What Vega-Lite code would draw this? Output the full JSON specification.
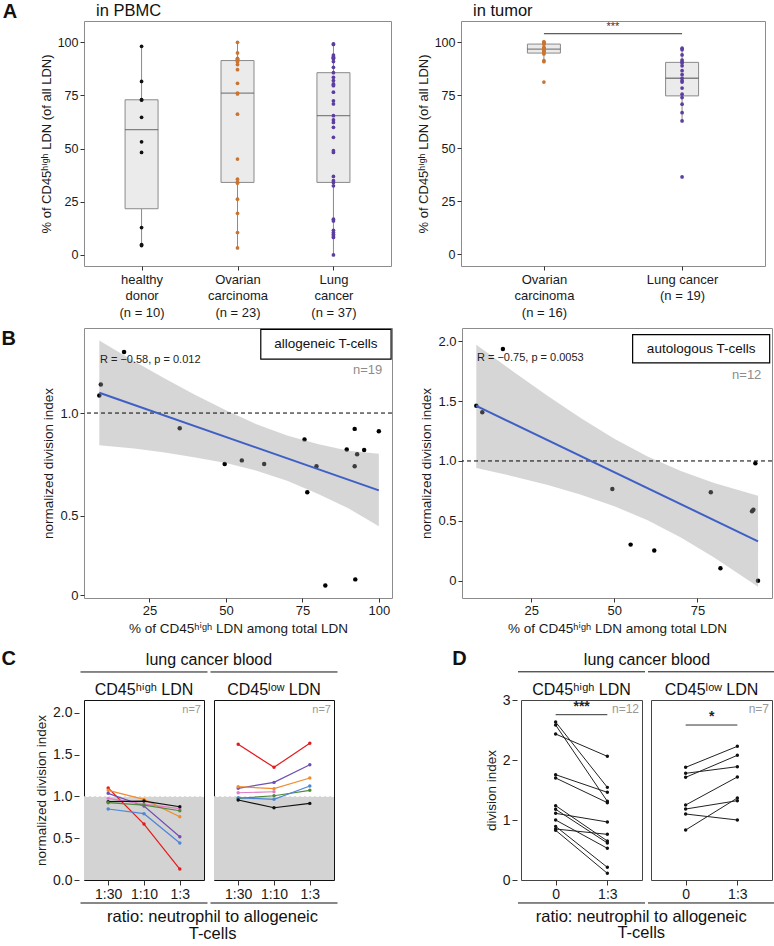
{
"$schema": "https://vega.github.io/schema/vega-lite/v6.json",
"padding": {"left": 1, "top": 2, "right": 2, "bottom": 2},
"resolve": {"scale": {"color": "independent"}},
"spacing": 14,
"config": {
  "font": "Liberation Sans, DejaVu Sans, sans-serif",
  "view": {"stroke": "#8c8c8c"},
  "axis": {"grid": false, "domain": false, "tickColor": "#333333", "tickSize": 4, "labelColor": "#1a1a1a", "titleColor": "#1a1a1a", "labelFontSize": 12.5, "titleFontSize": 13, "titleFontWeight": "normal", "labelPadding": 2, "titlePadding": 4},
  "title": {"fontWeight": "normal", "color": "#111111", "fontSize": 16.5},
  "header": {"labelColor": "#111111", "titleColor": "#111111", "labelFontSize": 16, "titleFontSize": 16, "titleFontWeight": "normal"}
},
"datasets": {
  "a1": [
    {"g":"healthy donor","v":98.1},{"g":"healthy donor","v":81.6},{"g":"healthy donor","v":73.0},{"g":"healthy donor","v":72.8},{"g":"healthy donor","v":64.7},{"g":"healthy donor","v":53.2},{"g":"healthy donor","v":48.2},{"g":"healthy donor","v":12.9},{"g":"healthy donor","v":4.9},{"g":"healthy donor","v":4.4},
    {"g":"Ovarian carcinoma","v":100},{"g":"Ovarian carcinoma","v":95.0},{"g":"Ovarian carcinoma","v":92.4},{"g":"Ovarian carcinoma","v":92.2},{"g":"Ovarian carcinoma","v":92.0},{"g":"Ovarian carcinoma","v":91.6},{"g":"Ovarian carcinoma","v":91.2},{"g":"Ovarian carcinoma","v":90.8},{"g":"Ovarian carcinoma","v":89.5},{"g":"Ovarian carcinoma","v":87.1},{"g":"Ovarian carcinoma","v":80.7},{"g":"Ovarian carcinoma","v":76.1},{"g":"Ovarian carcinoma","v":75.7},{"g":"Ovarian carcinoma","v":66.2},{"g":"Ovarian carcinoma","v":45.1},{"g":"Ovarian carcinoma","v":35.6},{"g":"Ovarian carcinoma","v":34.2},{"g":"Ovarian carcinoma","v":34.0},{"g":"Ovarian carcinoma","v":33.8},{"g":"Ovarian carcinoma","v":26.2},{"g":"Ovarian carcinoma","v":19.6},{"g":"Ovarian carcinoma","v":10.5},{"g":"Ovarian carcinoma","v":3.3},
    {"g":"Lung cancer","v":0},{"g":"Lung cancer","v":8.2},{"g":"Lung cancer","v":8.9},{"g":"Lung cancer","v":9.7},{"g":"Lung cancer","v":10.5},{"g":"Lung cancer","v":11.6},{"g":"Lung cancer","v":16.0},{"g":"Lung cancer","v":16.8},{"g":"Lung cancer","v":32.5},{"g":"Lung cancer","v":34.1},{"g":"Lung cancer","v":34.9},{"g":"Lung cancer","v":36.9},{"g":"Lung cancer","v":48.2},{"g":"Lung cancer","v":49.0},{"g":"Lung cancer","v":55.3},{"g":"Lung cancer","v":60.0},{"g":"Lung cancer","v":62.3},{"g":"Lung cancer","v":63.5},{"g":"Lung cancer","v":65.5},{"g":"Lung cancer","v":71.0},{"g":"Lung cancer","v":72.5},{"g":"Lung cancer","v":76.5},{"g":"Lung cancer","v":79.6},{"g":"Lung cancer","v":80.0},{"g":"Lung cancer","v":80.4},{"g":"Lung cancer","v":82.0},{"g":"Lung cancer","v":83.5},{"g":"Lung cancer","v":85.7},{"g":"Lung cancer","v":88.2},{"g":"Lung cancer","v":90.9},{"g":"Lung cancer","v":92.2},{"g":"Lung cancer","v":92.5},{"g":"Lung cancer","v":92.9},{"g":"Lung cancer","v":93.2},{"g":"Lung cancer","v":94.0},{"g":"Lung cancer","v":99.0},{"g":"Lung cancer","v":99.3}
  ],
  "a2": [
    {"g":"Ovarian carcinoma","v":81.2},{"g":"Ovarian carcinoma","v":90.8},{"g":"Ovarian carcinoma","v":91.3},{"g":"Ovarian carcinoma","v":94.5},{"g":"Ovarian carcinoma","v":95.0},{"g":"Ovarian carcinoma","v":95.7},{"g":"Ovarian carcinoma","v":96.2},{"g":"Ovarian carcinoma","v":96.6},{"g":"Ovarian carcinoma","v":96.8},{"g":"Ovarian carcinoma","v":97.2},{"g":"Ovarian carcinoma","v":97.6},{"g":"Ovarian carcinoma","v":99.0},{"g":"Ovarian carcinoma","v":99.5},{"g":"Ovarian carcinoma","v":100},{"g":"Ovarian carcinoma","v":100},{"g":"Ovarian carcinoma","v":100},
    {"g":"Lung cancer","v":36.5},{"g":"Lung cancer","v":62.9},{"g":"Lung cancer","v":66.8},{"g":"Lung cancer","v":70.8},{"g":"Lung cancer","v":73.9},{"g":"Lung cancer","v":75.5},{"g":"Lung cancer","v":78.4},{"g":"Lung cancer","v":81.2},{"g":"Lung cancer","v":81.8},{"g":"Lung cancer","v":83.0},{"g":"Lung cancer","v":84.7},{"g":"Lung cancer","v":86.6},{"g":"Lung cancer","v":88.9},{"g":"Lung cancer","v":90.2},{"g":"Lung cancer","v":90.8},{"g":"Lung cancer","v":91.6},{"g":"Lung cancer","v":94.0},{"g":"Lung cancer","v":96.5},{"g":"Lung cancer","v":97.2}
  ],
  "b1": [
    {"x":8.6,"y":1.085},{"x":9.1,"y":1.139},{"x":16.7,"y":1.296},{"x":34.9,"y":0.926},{"x":49.6,"y":0.752},{"x":55.2,"y":0.770},{"x":62.5,"y":0.752},{"x":75.7,"y":0.872},{"x":76.6,"y":0.615},{"x":79.6,"y":0.742},{"x":89.5,"y":0.823},{"x":92.1,"y":0.923},{"x":92.1,"y":0.742},{"x":92.9,"y":0.800},{"x":95.2,"y":0.820},{"x":100.0,"y":0.911},{"x":82.5,"y":0.162},{"x":92.3,"y":0.192}
  ],
  "b1band": [
    {"x":8.6,"lo":0.844,"hi":1.352},{"x":20,"lo":0.828,"hi":1.252},{"x":30,"lo":0.808,"hi":1.168},{"x":40,"lo":0.784,"hi":1.088},{"x":50,"lo":0.757,"hi":1.013},{"x":60,"lo":0.720,"hi":0.946},{"x":70,"lo":0.671,"hi":0.891},{"x":80,"lo":0.608,"hi":0.850},{"x":90,"lo":0.537,"hi":0.817},{"x":100,"lo":0.450,"hi":0.802}
  ],
  "b2": [
    {"x":8.5,"y":1.462},{"x":10.3,"y":1.407},{"x":16.5,"y":1.936},{"x":49.4,"y":0.766},{"x":54.9,"y":0.301},{"x":62.0,"y":0.251},{"x":79.0,"y":0.738},{"x":81.9,"y":0.103},{"x":91.4,"y":0.579},{"x":91.8,"y":0.593},{"x":92.4,"y":0.981},{"x":93.2,"y":0.0}
  ],
  "b2band": [
    {"x":8.5,"lo":0.942,"hi":1.972},{"x":20,"lo":0.869,"hi":1.739},{"x":30,"lo":0.799,"hi":1.543},{"x":40,"lo":0.717,"hi":1.357},{"x":50,"lo":0.622,"hi":1.186},{"x":60,"lo":0.504,"hi":1.038},{"x":70,"lo":0.360,"hi":0.916},{"x":80,"lo":0.193,"hi":0.815},{"x":93.2,"lo":-0.051,"hi":0.709}
  ],
  "c": [
    {"l":"H","s":"red","r":"1:30","v":1.100},{"l":"H","s":"red","r":"1:10","v":0.669},{"l":"H","s":"red","r":"1:3","v":0.131},
    {"l":"H","s":"orange","r":"1:30","v":1.072},{"l":"H","s":"orange","r":"1:10","v":0.964},{"l":"H","s":"orange","r":"1:3","v":0.757},
    {"l":"H","s":"purple","r":"1:30","v":1.036},{"l":"H","s":"purple","r":"1:10","v":0.884},{"l":"H","s":"purple","r":"1:3","v":0.518},
    {"l":"H","s":"pink","r":"1:30","v":0.976},{"l":"H","s":"pink","r":"1:10","v":0.908},{"l":"H","s":"pink","r":"1:3","v":0.853},
    {"l":"H","s":"black","r":"1:30","v":0.936},{"l":"H","s":"black","r":"1:10","v":0.944},{"l":"H","s":"black","r":"1:3","v":0.876},
    {"l":"H","s":"green","r":"1:30","v":0.924},{"l":"H","s":"green","r":"1:10","v":0.896},{"l":"H","s":"green","r":"1:3","v":0.828},
    {"l":"H","s":"blue","r":"1:30","v":0.849},{"l":"H","s":"blue","r":"1:10","v":0.793},{"l":"H","s":"blue","r":"1:3","v":0.442},
    {"l":"L","s":"red","r":"1:30","v":1.622},{"l":"L","s":"red","r":"1:10","v":1.347},{"l":"L","s":"red","r":"1:3","v":1.634},
    {"l":"L","s":"purple","r":"1:30","v":1.096},{"l":"L","s":"purple","r":"1:10","v":1.167},{"l":"L","s":"purple","r":"1:3","v":1.378},
    {"l":"L","s":"orange","r":"1:30","v":1.116},{"l":"L","s":"orange","r":"1:10","v":1.092},{"l":"L","s":"orange","r":"1:3","v":1.219},
    {"l":"L","s":"pink","r":"1:30","v":1.043},{"l":"L","s":"pink","r":"1:10","v":1.055},
    {"l":"L","s":"green","r":"1:30","v":0.976},{"l":"L","s":"green","r":"1:10","v":1.007},{"l":"L","s":"green","r":"1:3","v":1.072},
    {"l":"L","s":"blue","r":"1:30","v":0.984},{"l":"L","s":"blue","r":"1:10","v":0.964},{"l":"L","s":"blue","r":"1:3","v":1.124},
    {"l":"L","s":"black","r":"1:30","v":0.956},{"l":"L","s":"black","r":"1:10","v":0.864},{"l":"L","s":"black","r":"1:3","v":0.916}
  ],
  "d": [
    {"k":"pt","l":"H","id":"h1","r":"0","v":2.633},{"k":"pt","l":"H","id":"h1","r":"1:3","v":1.544},
    {"k":"pt","l":"H","id":"h2","r":"0","v":2.583},{"k":"pt","l":"H","id":"h2","r":"1:3","v":1.311},
    {"k":"pt","l":"H","id":"h3","r":"0","v":2.433},{"k":"pt","l":"H","id":"h3","r":"1:3","v":2.061},
    {"k":"pt","l":"H","id":"h4","r":"0","v":1.755},{"k":"pt","l":"H","id":"h4","r":"1:3","v":1.461},
    {"k":"pt","l":"H","id":"h5","r":"0","v":1.700},{"k":"pt","l":"H","id":"h5","r":"1:3","v":1.289},
    {"k":"pt","l":"H","id":"h6","r":"0","v":1.239},{"k":"pt","l":"H","id":"h6","r":"1:3","v":0.650},
    {"k":"pt","l":"H","id":"h7","r":"0","v":1.178},{"k":"pt","l":"H","id":"h7","r":"1:3","v":0.617},
    {"k":"pt","l":"H","id":"h8","r":"0","v":1.111},{"k":"pt","l":"H","id":"h8","r":"1:3","v":0.967},
    {"k":"pt","l":"H","id":"h9","r":"0","v":1.000},{"k":"pt","l":"H","id":"h9","r":"1:3","v":0.528},
    {"k":"pt","l":"H","id":"h10","r":"0","v":0.894},{"k":"pt","l":"H","id":"h10","r":"1:3","v":0.211},
    {"k":"pt","l":"H","id":"h11","r":"0","v":0.850},{"k":"pt","l":"H","id":"h11","r":"1:3","v":0.761},
    {"k":"pt","l":"H","id":"h12","r":"0","v":0.828},{"k":"pt","l":"H","id":"h12","r":"1:3","v":0.111},
    {"k":"pt","l":"L","id":"l1","r":"0","v":1.878},{"k":"pt","l":"L","id":"l1","r":"1:3","v":2.228},
    {"k":"pt","l":"L","id":"l2","r":"0","v":1.778},{"k":"pt","l":"L","id":"l2","r":"1:3","v":1.889},
    {"k":"pt","l":"L","id":"l3","r":"0","v":1.711},{"k":"pt","l":"L","id":"l3","r":"1:3","v":2.078},
    {"k":"pt","l":"L","id":"l4","r":"0","v":1.250},{"k":"pt","l":"L","id":"l4","r":"1:3","v":1.717},
    {"k":"pt","l":"L","id":"l5","r":"0","v":1.183},{"k":"pt","l":"L","id":"l5","r":"1:3","v":1.322},
    {"k":"pt","l":"L","id":"l6","r":"0","v":1.100},{"k":"pt","l":"L","id":"l6","r":"1:3","v":1.000},
    {"k":"pt","l":"L","id":"l7","r":"0","v":0.833},{"k":"pt","l":"L","id":"l7","r":"1:3","v":1.367},
    {"k":"sig","l":"H","lab":"***","ly":2.755,"ty":2.89},
    {"k":"sig","l":"L","lab":"*","ly":2.583,"ty":2.72},
    {"k":"n","l":"H","lab":"n=12","ty":2.85},
    {"k":"n","l":"L","lab":"n=7","ty":2.85}
  ]
},
"vconcat": [
  {
    "spacing": 7,
    "resolve": {"scale": {"color": "independent"}},
    "vconcat": [
      {
        "title": {"text": "A", "anchor": "start", "frame": "bounds", "fontSize": 20, "fontWeight": "bold", "dx": -37, "offset": -20},
        "spacing": 24,
        "hconcat": [
          {
            "width": 307, "height": 245,
            "title": {"text": "in PBMC", "anchor": "start", "frame": "group", "dx": 12, "offset": 1.5},
            "data": {"name": "a1"},
            "layer": [
              {
                "mark": {"type": "boxplot", "extent": 1.5, "size": 33, "outliers": false, "ticks": false,
                         "box": {"color": "#ebebeb", "stroke": "#8a8a8a", "strokeWidth": 1},
                         "median": {"color": "#555555", "thickness": 1.3},
                         "rule": {"color": "#8a8a8a"}},
                "encoding": {
                  "x": {"field": "g", "type": "nominal", "sort": ["healthy donor", "Ovarian carcinoma", "Lung cancer"], "scale": {"type": "point", "padding": 0.6},
                        "axis": {"title": null, "labelAngle": 0, "labelFontSize": 13, "labelLineHeight": 16.5, "labelBaseline": "top", "labelPadding": 3,
                                 "labelExpr": "datum.value == 'healthy donor' ? ['healthy', 'donor', '(n = 10)'] : datum.value == 'Ovarian carcinoma' ? ['Ovarian', 'carcinoma', '(n = 23)'] : ['Lung', 'cancer', '(n = 37)']"}},
                  "y": {"field": "v", "type": "quantitative", "scale": {"domain": [-5.2, 110], "nice": false, "zero": false},
                        "axis": {"values": [0, 25, 50, 75, 100], "title": "% of CD45ʰⁱᵍʰ LDN (of all LDN)"}}
                }
              },
              {
                "mark": {"type": "circle", "size": 14, "opacity": 1},
                "encoding": {
                  "x": {"field": "g", "type": "nominal", "sort": ["healthy donor", "Ovarian carcinoma", "Lung cancer"]},
                  "y": {"field": "v", "type": "quantitative"},
                  "color": {"field": "g", "type": "nominal", "scale": {"domain": ["healthy donor", "Ovarian carcinoma", "Lung cancer"], "range": ["#111111", "#c87533", "#5b3ea0"]}, "legend": null}
                }
              }
            ]
          },
          {
            "width": 304, "height": 245,
            "title": {"text": "in tumor", "anchor": "start", "frame": "group", "dx": 12, "offset": 1.5},
            "layer": [
              {
                "data": {"name": "a2"},
                "mark": {"type": "boxplot", "extent": 1.5, "size": 33, "outliers": false, "ticks": false,
                         "box": {"color": "#ebebeb", "stroke": "#8a8a8a", "strokeWidth": 1},
                         "median": {"color": "#555555", "thickness": 1.3},
                         "rule": {"color": "#8a8a8a"}},
                "encoding": {
                  "x": {"field": "g", "type": "nominal", "sort": ["Ovarian carcinoma", "Lung cancer"], "scale": {"type": "point", "padding": 0.6},
                        "axis": {"title": null, "labelAngle": 0, "labelFontSize": 13, "labelLineHeight": 16.5, "labelBaseline": "top", "labelPadding": 3,
                                 "labelExpr": "datum.value == 'Ovarian carcinoma' ? ['Ovarian', 'carcinoma', '(n = 16)'] : ['Lung cancer', '(n = 19)']"}},
                  "y": {"field": "v", "type": "quantitative", "scale": {"domain": [-5.5, 110], "nice": false, "zero": false},
                        "axis": {"values": [0, 25, 50, 75, 100], "title": "% of CD45ʰⁱᵍʰ LDN (of all LDN)"}}
                }
              },
              {
                "data": {"name": "a2"},
                "mark": {"type": "circle", "size": 14, "opacity": 1},
                "encoding": {
                  "x": {"field": "g", "type": "nominal", "sort": ["Ovarian carcinoma", "Lung cancer"]},
                  "y": {"field": "v", "type": "quantitative"},
                  "color": {"field": "g", "type": "nominal", "scale": {"domain": ["Ovarian carcinoma", "Lung cancer"], "range": ["#c87533", "#5b3ea0"]}, "legend": null}
                }
              },
              {
                "data": {"values": [{}]},
                "mark": {"type": "rule", "color": "#333333", "strokeWidth": 1},
                "encoding": {"x": {"datum": "Ovarian carcinoma", "type": "nominal"}, "x2": {"datum": "Lung cancer"}, "y": {"datum": 104, "type": "quantitative"}}
              },
              {
                "data": {"values": [{}]},
                "mark": {"type": "text", "text": "***", "fontSize": 11, "dx": 69, "baseline": "middle", "fill": "#333333"},
                "encoding": {"x": {"datum": "Ovarian carcinoma", "type": "nominal"}, "y": {"datum": 107.4, "type": "quantitative"}}
              }
            ]
          }
        ]
      },
      {
        "title": {"text": "B", "anchor": "start", "frame": "bounds", "fontSize": 20, "fontWeight": "bold", "dx": -40, "offset": -21},
        "spacing": 26,
        "hconcat": [
          {
            "width": 308, "height": 270,
            "layer": [
              {
                "data": {"name": "b1"},
                "mark": {"type": "circle", "size": 20, "color": "#000000", "opacity": 1},
                "encoding": {
                  "x": {"field": "x", "type": "quantitative", "scale": {"domain": [3.6, 104.3], "nice": false, "zero": false},
                        "axis": {"values": [25, 50, 75, 100], "title": "% of CD45ʰⁱᵍʰ LDN among total LDN", "titleFontSize": 13.5, "labelFontSize": 13}},
                  "y": {"field": "y", "type": "quantitative", "scale": {"domain": [0.1016, 1.413], "nice": false, "zero": false},
                        "axis": {"values": [0.115, 0.5, 1], "labelExpr": "datum.value < 0.2 ? '0' : format(datum.value, '.1f')", "title": "normalized division index", "titleFontSize": 13.5, "labelFontSize": 13}}
                }
              },
              {
                "data": {"name": "b1band"},
                "mark": {"type": "area", "color": "#999999", "opacity": 0.4},
                "encoding": {"x": {"field": "x", "type": "quantitative"}, "y": {"field": "lo", "type": "quantitative"}, "y2": {"field": "hi"}}
              },
              {
                "data": {"values": [{}]},
                "mark": {"type": "rule", "color": "#000000", "strokeDash": [4, 3], "strokeWidth": 1},
                "encoding": {"y": {"datum": 1, "type": "quantitative"}}
              },
              {
                "data": {"name": "b1"},
                "transform": [{"regression": "y", "on": "x"}],
                "mark": {"type": "line", "color": "#3f5fc4", "strokeWidth": 2},
                "encoding": {"x": {"field": "x", "type": "quantitative"}, "y": {"field": "y", "type": "quantitative"}}
              },
              {
                "data": {"values": [{}]},
                "mark": {"type": "text", "text": "R = −0.58, p = 0.012", "align": "left", "baseline": "middle", "fontSize": 11, "color": "#222222"},
                "encoding": {"x": {"datum": 8.8, "type": "quantitative"}, "y": {"datum": 1.257, "type": "quantitative"}}
              },
              {
                "data": {"values": [{}]},
                "mark": {"type": "rect", "fill": "#ffffff", "stroke": "#000000", "strokeWidth": 1.2},
                "encoding": {"x": {"datum": 61.4, "type": "quantitative"}, "x2": {"datum": 104.0}, "y": {"datum": 1.262, "type": "quantitative"}, "y2": {"datum": 1.406}}
              },
              {
                "data": {"values": [{}]},
                "mark": {"type": "text", "text": "allogeneic T-cells", "align": "center", "baseline": "middle", "fontSize": 13.5, "color": "#111111"},
                "encoding": {"x": {"datum": 82.7, "type": "quantitative"}, "y": {"datum": 1.334, "type": "quantitative"}}
              },
              {
                "data": {"values": [{}]},
                "mark": {"type": "text", "text": "n=19", "align": "right", "baseline": "middle", "fontSize": 13, "color": "#8c8c8c"},
                "encoding": {"x": {"datum": 101.1, "type": "quantitative"}, "y": {"datum": 1.209, "type": "quantitative"}}
              }
            ]
          },
          {
            "width": 310, "height": 270,
            "layer": [
              {
                "data": {"name": "b2"},
                "mark": {"type": "circle", "size": 20, "color": "#000000", "opacity": 1},
                "encoding": {
                  "x": {"field": "x", "type": "quantitative", "scale": {"domain": [4.2, 97.4], "nice": false, "zero": false},
                        "axis": {"values": [25, 50, 75], "title": "% of CD45ʰⁱᵍʰ LDN among total LDN", "titleFontSize": 13.5, "labelFontSize": 13}},
                  "y": {"field": "y", "type": "quantitative", "scale": {"domain": [-0.145, 2.111], "nice": false, "zero": false},
                        "axis": {"values": [0, 0.5, 1, 1.5, 2], "labelExpr": "datum.value == 0 ? '0' : format(datum.value, '.1f')", "title": "normalized division index", "titleFontSize": 13.5, "labelFontSize": 13}}
                }
              },
              {
                "data": {"name": "b2band"},
                "mark": {"type": "area", "color": "#999999", "opacity": 0.4},
                "encoding": {"x": {"field": "x", "type": "quantitative"}, "y": {"field": "lo", "type": "quantitative"}, "y2": {"field": "hi"}}
              },
              {
                "data": {"values": [{}]},
                "mark": {"type": "rule", "color": "#000000", "strokeDash": [4, 3], "strokeWidth": 1},
                "encoding": {"y": {"datum": 1, "type": "quantitative"}}
              },
              {
                "data": {"name": "b2"},
                "transform": [{"regression": "y", "on": "x"}],
                "mark": {"type": "line", "color": "#3f5fc4", "strokeWidth": 2},
                "encoding": {"x": {"field": "x", "type": "quantitative"}, "y": {"field": "y", "type": "quantitative"}}
              },
              {
                "data": {"values": [{}]},
                "mark": {"type": "text", "text": "R = −0.75, p = 0.0053", "align": "left", "baseline": "middle", "fontSize": 11, "color": "#222222"},
                "encoding": {"x": {"datum": 8.7, "type": "quantitative"}, "y": {"datum": 1.861, "type": "quantitative"}}
              },
              {
                "data": {"values": [{}]},
                "mark": {"type": "rect", "fill": "#ffffff", "stroke": "#000000", "strokeWidth": 1.2},
                "encoding": {"x": {"datum": 55.5, "type": "quantitative"}, "x2": {"datum": 96.7}, "y": {"datum": 1.819, "type": "quantitative"}, "y2": {"datum": 2.056}}
              },
              {
                "data": {"values": [{}]},
                "mark": {"type": "text", "text": "autologous T-cells", "align": "center", "baseline": "middle", "fontSize": 13.5, "color": "#111111"},
                "encoding": {"x": {"datum": 76.1, "type": "quantitative"}, "y": {"datum": 1.937, "type": "quantitative"}}
              },
              {
                "data": {"values": [{}]},
                "mark": {"type": "text", "text": "n=12", "align": "right", "baseline": "middle", "fontSize": 13, "color": "#8c8c8c"},
                "encoding": {"x": {"datum": 94.2, "type": "quantitative"}, "y": {"datum": 1.721, "type": "quantitative"}}
              }
            ]
          }
        ]
      }
    ]
  },
  {
    "spacing": 113,
    "resolve": {"scale": {"color": "independent"}},
    "hconcat": [
      {
        "title": {"text": ["ratio: neutrophil to allogeneic", "T-cells"], "orient": "bottom", "anchor": "start", "align": "center", "dx": 211, "fontSize": 16.5, "lineHeight": 16.5, "offset": 5},
        "vconcat": [
          {
            "data": {"name": "c"},
            "title": {"text": "C", "anchor": "start", "fontSize": 20, "fontWeight": "bold", "dx": -33, "offset": -17},
            "facet": {"column": {"field": "l", "type": "nominal", "sort": ["H", "L"], "title": "lung cancer blood",
                      "header": {"labelExpr": "datum.value == 'H' ? 'CD45ʰⁱᵍʰ LDN' : 'CD45ˡᵒʷ LDN'", "labelPadding": -28, "titlePadding": -8}}},
            "spacing": 0,
            "resolve": {"axis": {"x": "independent"}},
            "spec": {
              "width": 120, "height": 180,
              "view": {"stroke": "#111111"},
              "layer": [
                {
                  "transform": [{"filter": "datum.r == '1:30' && datum.s == 'black'"}],
                  "mark": {"type": "rect", "color": "#d3d3d3"},
                  "encoding": {"x": {"value": 0}, "x2": {"value": "width"}, "y": {"datum": 0, "type": "quantitative", "scale": {"domain": [0, 2.152], "nice": false, "zero": false}}, "y2": {"datum": 1}}
                },
                {
                  "transform": [{"filter": "datum.r == '1:30' && datum.s == 'black'"}],
                  "mark": {"type": "rule", "color": "#ffffff", "strokeDash": [3, 2], "strokeWidth": 1},
                  "encoding": {"y": {"datum": 1, "type": "quantitative"}}
                },
                {
                  "transform": [{"filter": "datum.r == '1:30' && datum.s == 'black'"}],
                  "mark": {"type": "rule", "color": "#111111", "strokeWidth": 1, "xOffset": -3.5, "x2Offset": 3.5},
                  "encoding": {"x": {"value": 0}, "x2": {"value": "width"}, "y": {"datum": 2.487, "type": "quantitative"}}
                },
                {
                  "transform": [{"filter": "datum.r == '1:30' && datum.s == 'black'"}],
                  "mark": {"type": "rule", "color": "#111111", "strokeWidth": 1, "xOffset": -3.5, "x2Offset": 3.5},
                  "encoding": {"x": {"value": 0}, "x2": {"value": "width"}, "y": {"datum": -0.275, "type": "quantitative"}}
                },
                {
                  "mark": {"type": "line", "strokeWidth": 1.2},
                  "encoding": {
                    "x": {"field": "r", "type": "ordinal", "sort": ["1:30", "1:10", "1:3"], "scale": {"type": "point", "padding": 0.675},
                          "axis": {"title": null, "labelAngle": 0, "labelFontSize": 14, "tickSize": 5}},
                    "y": {"field": "v", "type": "quantitative", "scale": {"domain": [0, 2.152], "nice": false, "zero": false},
                          "axis": {"values": [0, 0.5, 1, 1.5, 2], "format": ".1f", "title": "normalized division index", "tickSize": 5, "labelFontSize": 14, "titleFontSize": 13.5}},
                    "color": {"field": "s", "type": "nominal", "scale": {"domain": ["black", "green", "pink", "blue", "orange", "purple", "red"], "range": ["#111111", "#4f8a3a", "#e07cc8", "#4f86d6", "#f08c2c", "#6e4fb3", "#e41a1c"]}, "legend": null}
                  }
                },
                {
                  "mark": {"type": "circle", "size": 12, "opacity": 1},
                  "encoding": {
                    "x": {"field": "r", "type": "ordinal", "sort": ["1:30", "1:10", "1:3"]},
                    "y": {"field": "v", "type": "quantitative"},
                    "color": {"field": "s", "type": "nominal", "scale": {"domain": ["black", "green", "pink", "blue", "orange", "purple", "red"], "range": ["#111111", "#4f8a3a", "#e07cc8", "#4f86d6", "#f08c2c", "#6e4fb3", "#e41a1c"]}, "legend": null}
                  }
                },
                {
                  "transform": [{"filter": "datum.r == '1:30' && datum.s == 'black'"}],
                  "mark": {"type": "text", "text": "n=7", "align": "right", "baseline": "middle", "fontSize": 11, "color": "#999999", "dx": -3},
                  "encoding": {"x": {"value": "width"}, "y": {"datum": 2.03, "type": "quantitative"}}
                }
              ]
            }
          }
        ]
      },
      {
        "title": {"text": ["ratio: neutrophil to allogeneic", "T-cells"], "orient": "bottom", "anchor": "start", "align": "center", "dx": 189, "fontSize": 16.5, "lineHeight": 16.5, "offset": 5},
        "vconcat": [
          {
            "data": {"name": "d"},
            "title": {"text": "D", "anchor": "start", "fontSize": 20, "fontWeight": "bold", "dx": -32, "offset": -17},
            "facet": {"column": {"field": "l", "type": "nominal", "sort": ["H", "L"], "title": "lung cancer blood",
                      "header": {"labelExpr": "datum.value == 'H' ? 'CD45ʰⁱᵍʰ LDN' : 'CD45ˡᵒʷ LDN'", "labelPadding": -28, "titlePadding": -8}}},
            "spacing": 1,
            "resolve": {"axis": {"x": "independent"}},
            "spec": {
              "width": 121, "height": 180,
              "view": {"stroke": "#444444"},
              "layer": [
                {
                  "transform": [{"filter": "datum.k == 'n'"}],
                  "mark": {"type": "rule", "color": "#111111", "strokeWidth": 1, "xOffset": -3, "x2Offset": 3},
                  "encoding": {"x": {"value": 0}, "x2": {"value": "width"}, "y": {"datum": 3.47, "type": "quantitative", "scale": {"domain": [0, 3], "nice": false, "zero": false}}}
                },
                {
                  "transform": [{"filter": "datum.k == 'n'"}],
                  "mark": {"type": "rule", "color": "#111111", "strokeWidth": 1, "xOffset": -3, "x2Offset": 3},
                  "encoding": {"x": {"value": 0}, "x2": {"value": "width"}, "y": {"datum": -0.383, "type": "quantitative"}}
                },
                {
                  "transform": [{"filter": "datum.k == 'pt'"}],
                  "mark": {"type": "line", "strokeWidth": 1, "color": "#222222"},
                  "encoding": {
                    "x": {"field": "r", "type": "ordinal", "sort": ["0", "1:3"], "scale": {"type": "point", "padding": 0.67},
                          "axis": {"title": null, "labelAngle": 0, "labelFontSize": 14, "tickSize": 5}},
                    "y": {"field": "v", "type": "quantitative", "scale": {"domain": [0, 3], "nice": false, "zero": false},
                          "axis": {"values": [0, 1, 2, 3], "format": "d", "title": "division index", "tickSize": 5, "labelFontSize": 14, "titleFontSize": 13.5}},
                    "detail": {"field": "id", "type": "nominal"}
                  }
                },
                {
                  "transform": [{"filter": "datum.k == 'pt'"}],
                  "mark": {"type": "circle", "size": 12, "color": "#111111", "opacity": 1},
                  "encoding": {"x": {"field": "r", "type": "ordinal", "sort": ["0", "1:3"]}, "y": {"field": "v", "type": "quantitative"}}
                },
                {
                  "transform": [{"filter": "datum.k == 'sig'"}],
                  "mark": {"type": "rule", "color": "#333333", "strokeWidth": 1},
                  "encoding": {"x": {"datum": "0", "type": "ordinal"}, "x2": {"datum": "1:3"}, "y": {"field": "ly", "type": "quantitative"}}
                },
                {
                  "transform": [{"filter": "datum.k == 'sig'"}],
                  "mark": {"type": "text", "fontSize": 14, "fontWeight": "bold", "baseline": "middle", "dx": 26, "color": "#222222"},
                  "encoding": {"x": {"datum": "0", "type": "ordinal"}, "y": {"field": "ty", "type": "quantitative"}, "text": {"field": "lab"}}
                },
                {
                  "transform": [{"filter": "datum.k == 'n'"}],
                  "mark": {"type": "text", "align": "right", "baseline": "middle", "fontSize": 12, "color": "#999999", "dx": -3},
                  "encoding": {"x": {"value": "width"}, "y": {"field": "ty", "type": "quantitative"}, "text": {"field": "lab"}}
                }
              ]
            }
          }
        ]
      }
    ]
  }
]
}
